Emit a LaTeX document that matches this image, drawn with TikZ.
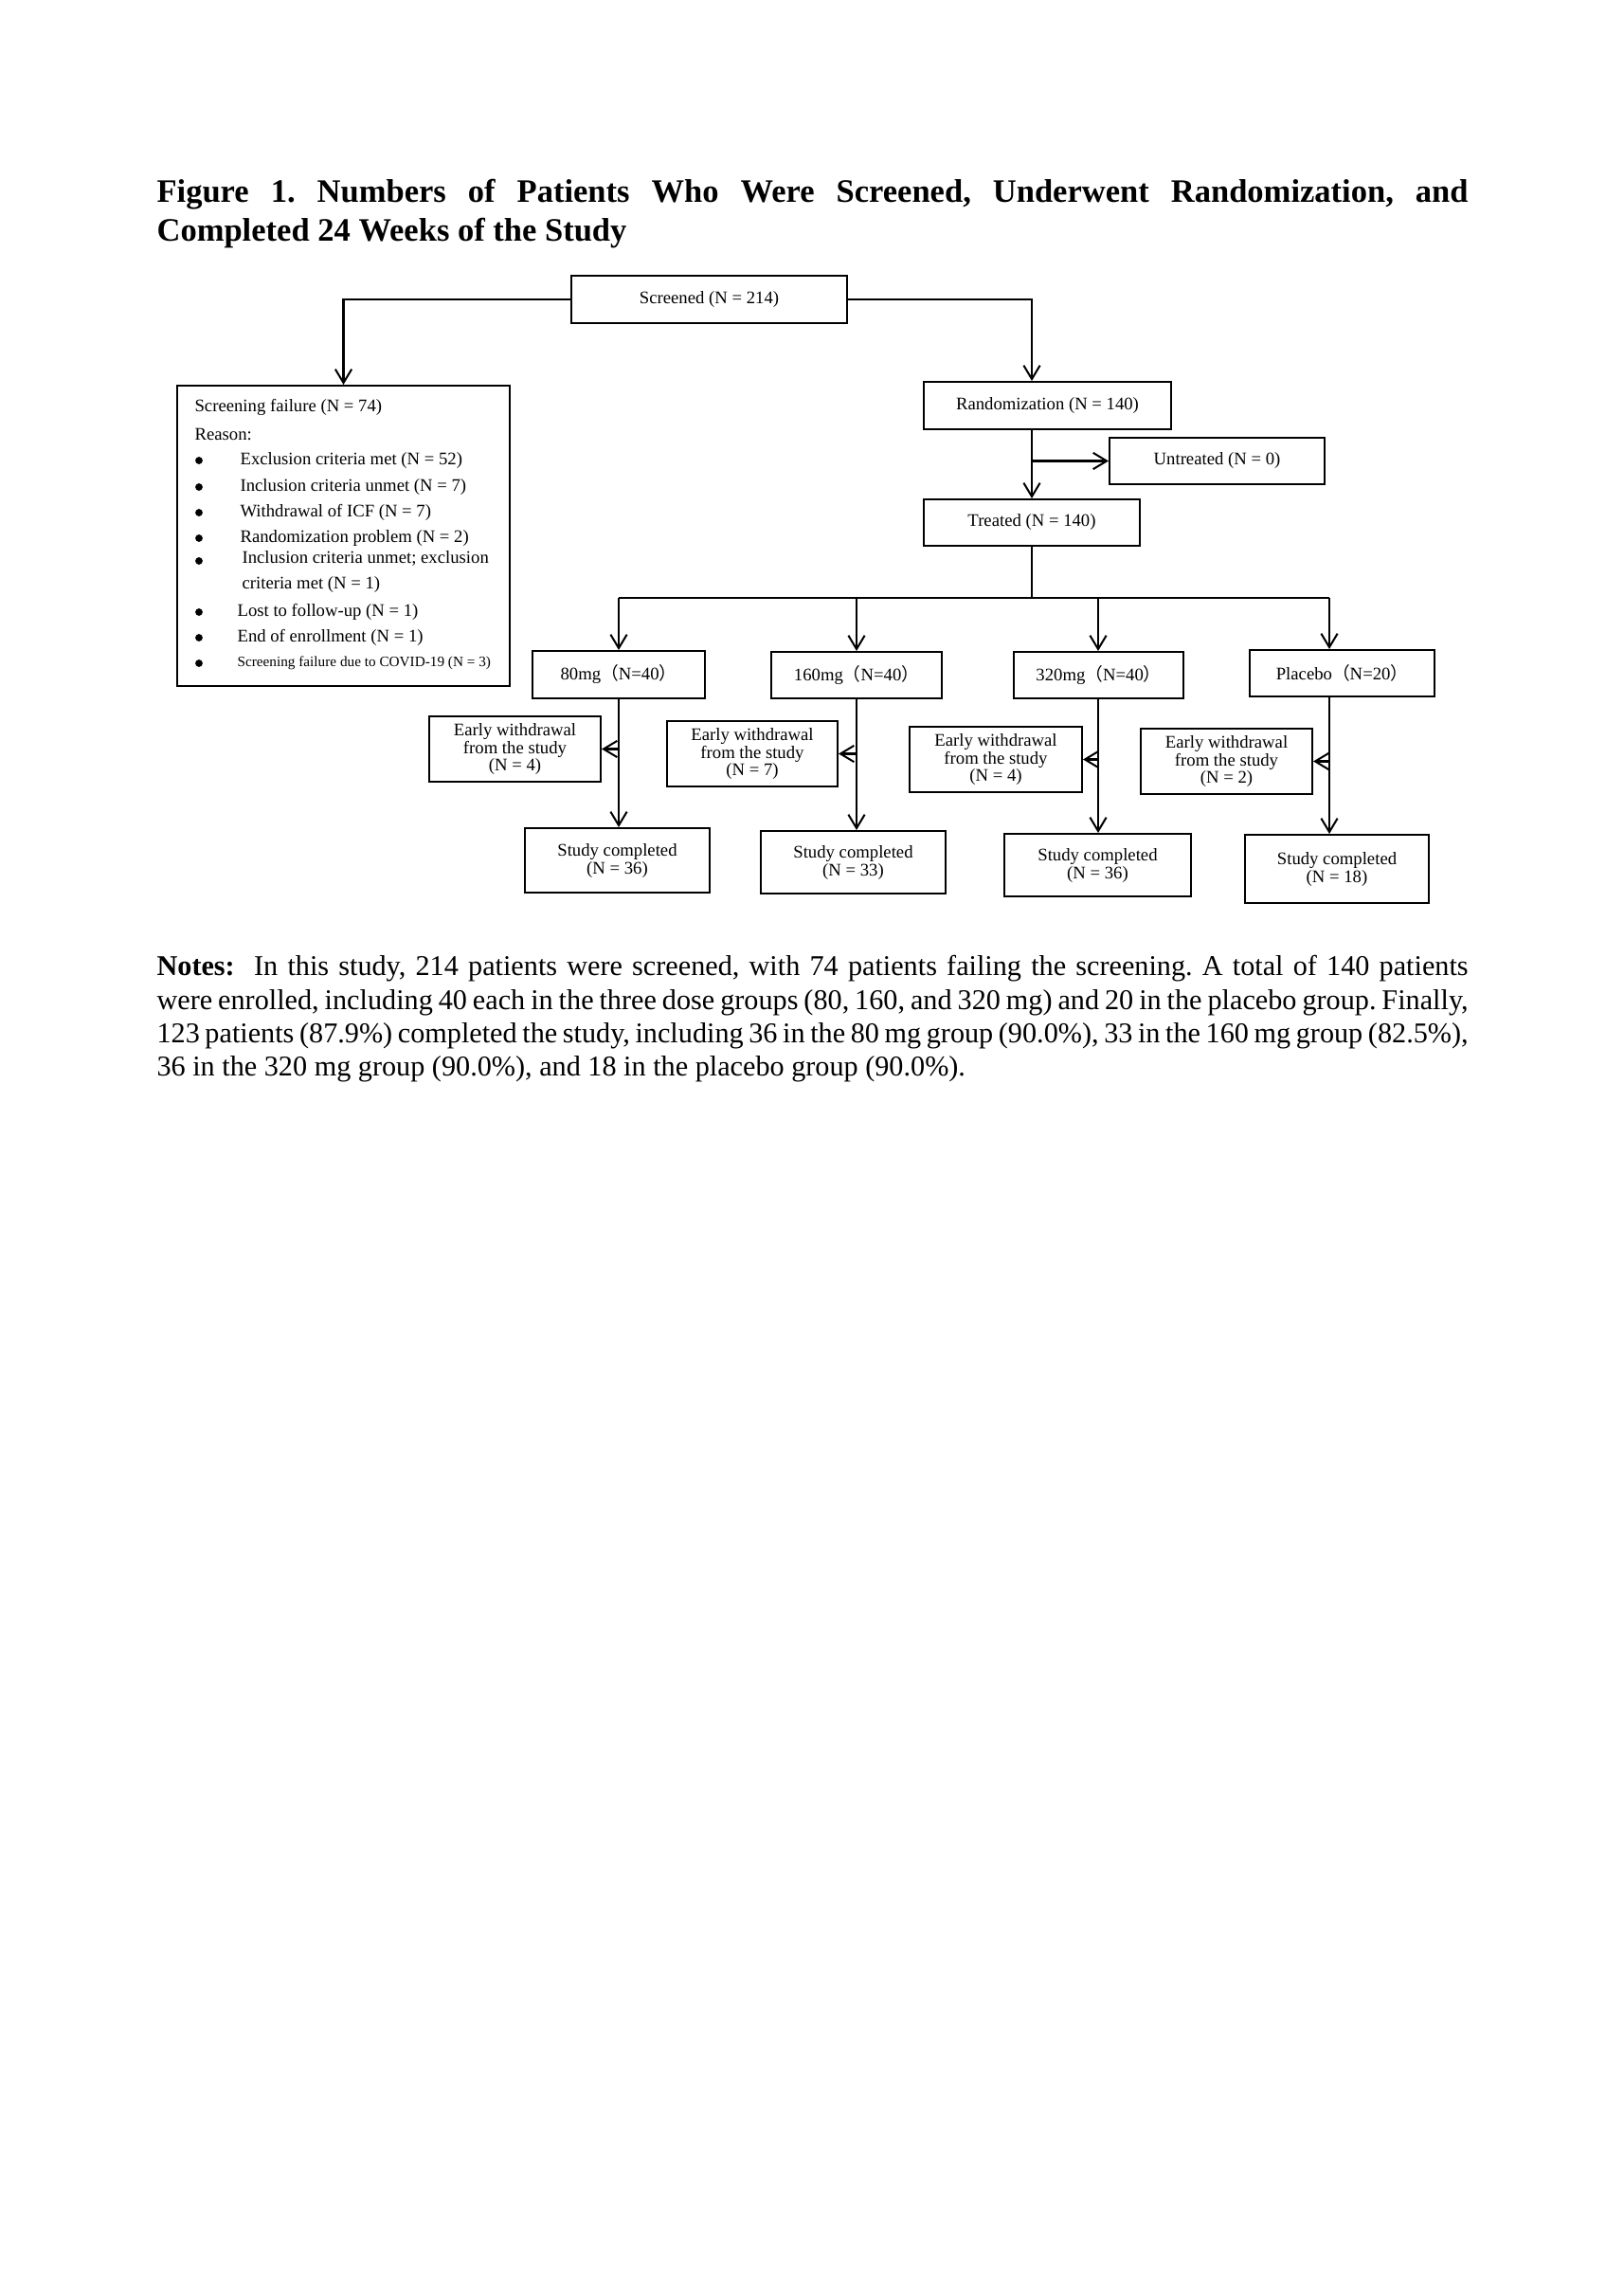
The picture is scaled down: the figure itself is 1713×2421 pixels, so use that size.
\documentclass[tikz,border=0pt]{standalone}
\usepackage{fontspec}
\setmainfont{Liberation Serif}
\newfontfamily\cjkfont{Noto Sans CJK SC}
\usetikzlibrary{arrows.meta}
\frenchspacing
\newdimen\pxu \pxu=0.34751pt
\newcommand{\fwl}{{\cjkfont （}}
\newcommand{\fwr}{{\cjkfont ）}}
\newcommand{\ttlfont}{\fontsize{12}{14}\selectfont\bfseries\spaceskip=0.25em plus 1em minus 0.15em\relax}
\newcommand{\ntsfont}{\fontsize{10.5}{12.3}\selectfont\spaceskip=0.25em plus 0.3em minus 0.15em\relax}
\begin{document}
\begin{tikzpicture}[x=\pxu,y=-\pxu,
  box/.style={draw, line width=0.7pt, inner sep=0pt, align=center, font=\fontsize{6.5}{6.6}\selectfont},
  conn/.style={line width=0.7pt},
  arr/.style={conn, -{Straight Barb[length=5pt,width=6pt]}},
  lst/.style={anchor=west, inner sep=0pt, font=\fontsize{6.5}{7}\selectfont},
  lstsmall/.style={anchor=west, inner sep=0pt, font=\fontsize{5.3}{6}\selectfont},
  dotb/.style={circle, fill, inner sep=0pt, minimum size=2.7pt},
  ttl/.style={anchor=base west, inner sep=0pt, font=\ttlfont},
  nts/.style={anchor=base west, inner sep=0pt, font=\ntsfont}]
\useasboundingbox (0,0) rectangle (1713,2421);
\fill[white] (0,0) rectangle (1713,2421);

% title
\node[ttl] (t1) at (165,214) {\makebox[1384\pxu][s]{Figure 1. Numbers of Patients Who Were Screened, Underwent Randomization, and}};
\node[ttl] (t2) at (165,255) {Completed 24 Weeks of the Study};

% boxes
\node[box, minimum width=291\pxu, minimum height=50\pxu] (scr) at (748.5,316) {Screened (N = 214)};
\node[box, minimum width=351\pxu, minimum height=317\pxu] (sf) at (362.5,565.5) {};
\node[box, minimum width=261\pxu, minimum height=50\pxu] (rand) at (1105.5,428) {Randomization (N = 140)};
\node[box, minimum width=227\pxu, minimum height=49\pxu] (untr) at (1284.5,486.5) {Untreated (N = 0)};
\node[box, minimum width=228\pxu, minimum height=49\pxu] (trt) at (1089,551.5) {Treated (N = 140)};

\node[box, minimum width=182\pxu, minimum height=50\pxu] (d80) at (653,712) {80mg\fwl N=40\fwr};
\node[box, minimum width=180\pxu, minimum height=49\pxu] (d160) at (904,712.5) {160mg\fwl N=40\fwr};
\node[box, minimum width=179\pxu, minimum height=49\pxu] (d320) at (1159.5,712.5) {320mg\fwl N=40\fwr};
\node[box, minimum width=195\pxu, minimum height=49\pxu] (dpl) at (1416.5,710.5) {Placebo\fwl N=20\fwr};

\node[box, minimum width=181\pxu, minimum height=69\pxu] (ew1) at (543.5,790.5) {Early withdrawal\\from the study\\(N = 4)};
\node[box, minimum width=180\pxu, minimum height=69\pxu] (ew2) at (794,795.5) {Early withdrawal\\from the study\\(N = 7)};
\node[box, minimum width=182\pxu, minimum height=69\pxu] (ew3) at (1051,801.5) {Early withdrawal\\from the study\\(N = 4)};
\node[box, minimum width=181\pxu, minimum height=69\pxu] (ew4) at (1294.5,803.5) {Early withdrawal\\from the study\\(N = 2)};

\node[box, minimum width=195\pxu, minimum height=68\pxu] (sc1) at (651.5,908) {Study completed\\(N = 36)};
\node[box, minimum width=195\pxu, minimum height=66\pxu] (sc2) at (900.5,910) {Study completed\\(N = 33)};
\node[box, minimum width=197\pxu, minimum height=66\pxu] (sc3) at (1158.5,913) {Study completed\\(N = 36)};
\node[box, minimum width=194\pxu, minimum height=72\pxu] (sc4) at (1411,917) {Study completed\\(N = 18)};

% screening failure contents
\node[lst] (sfa) at (205,430) {Screening failure (N = 74)};
\node[lst] (sfb) at (205,459) {Reason:};
\node[dotb] (o1) at (210,486) {};
\node[dotb] (o2) at (210,514) {};
\node[dotb] (o3) at (210,541) {};
\node[dotb] (o4) at (210,568) {};
\node[dotb] (o5) at (210,592) {};
\node[dotb] (o6) at (210,646) {};
\node[dotb] (o7) at (210,673) {};
\node[dotb] (o8) at (210,700) {};
\node[lst] (r1) at (253,486) {Exclusion criteria met (N = 52)};
\node[lst] (r2) at (253,514) {Inclusion criteria unmet (N = 7)};
\node[lst] (r3) at (253,541) {Withdrawal of ICF (N = 7)};
\node[lst] (r4) at (253,568) {Randomization problem (N = 2)};
\node[lst] (r5) at (255,589) {Inclusion criteria unmet; exclusion};
\node[lst] (r5b) at (255,617) {criteria met (N = 1)};
\node[lst] (r6) at (250,646) {Lost to follow-up (N = 1)};
\node[lst] (r7) at (250,673) {End of enrollment (N = 1)};
\node[lstsmall] (r8) at (250,700) {Screening failure due to COVID-19 (N = 3)};

% bus coordinates
\coordinate (b1) at (653,631);
\coordinate (b2) at (904,631);
\coordinate (b3) at (1159,631);
\coordinate (b4) at (1403,631);

% connectors
\draw[arr] (scr.west) -| (sf.north);
\draw[arr] (scr.east) -| (rand.north -| trt.north);
\draw[arr] (rand.south -| trt.north) -- (trt.north);
\draw[arr] (untr.west -| trt.north) -- (untr.west);
\draw[conn] (trt.south) -- (trt.south |- b1);
\draw[conn] (b1) -- (b4);
\draw[arr] (b1) -- (d80.north -| b1);
\draw[arr] (b2) -- (d160.north -| b2);
\draw[arr] (b3) -- (d320.north -| b3);
\draw[arr] (b4) -- (dpl.north -| b4);
\draw[arr] (d80.south -| b1) -- (sc1.north -| b1);
\draw[arr] (d160.south -| b2) -- (sc2.north -| b2);
\draw[arr] (d320.south -| b3) -- (sc3.north -| b3);
\draw[arr] (dpl.south -| b4) -- (sc4.north -| b4);
\draw[arr] (ew1.east -| b1) -- (ew1.east);
\draw[arr] (ew2.east -| b2) -- (ew2.east);
\draw[arr] (ew3.east -| b3) -- (ew3.east);
\draw[arr] (ew4.east -| b4) -- (ew4.east);

% notes
\node[nts] (n1) at (165,1029) {\makebox[1384\pxu][s]{\textbf{Notes:}~ In this study, 214 patients were screened, with 74 patients failing the screening. A total of 140 patients}};
\node[nts] (n2) at (165,1065) {\makebox[1384\pxu][s]{were enrolled, including 40 each in the three dose groups (80, 160, and 320 mg) and 20 in the placebo group. Finally,}};
\node[nts] (n3) at (165,1100) {\makebox[1384\pxu][s]{123 patients (87.9\%) completed the study, including 36 in the 80 mg group (90.0\%), 33 in the 160 mg group (82.5\%),}};
\node[nts] (n4) at (165,1135) {36 in the 320 mg group (90.0\%), and 18 in the placebo group (90.0\%).};
\end{tikzpicture}
\end{document}
